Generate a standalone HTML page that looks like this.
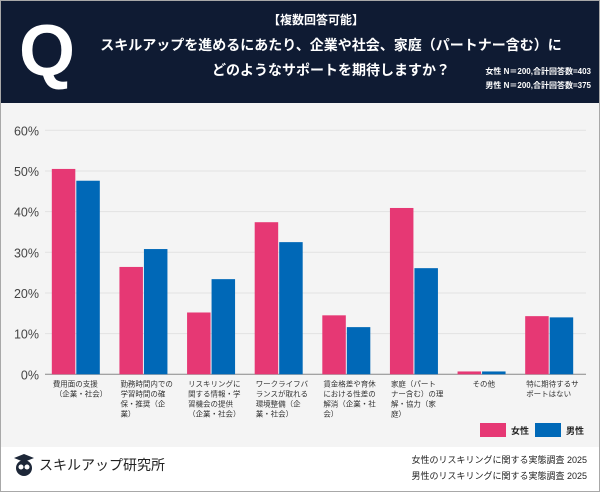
<!DOCTYPE html>
<html><head><meta charset="utf-8"><style>
body{margin:0;width:600px;height:492px;overflow:hidden;font-family:"Liberation Sans","Noto Sans CJK JP",sans-serif;}
#wrap{position:absolute;left:0;top:0;width:598px;height:490px;border:1px solid #a8a8a8;background:#fff;}
#head{position:absolute;left:0;top:0;width:598px;height:102px;background:#0f1b33;color:#fff;}
#chartbg{position:absolute;left:0;top:102px;width:598px;height:344px;background:#f4f4f4;}
</style></head><body>
<div id="wrap">
<div id="head">
 <div style="position:absolute;left:18px;top:14px;font-size:72px;font-weight:bold;line-height:72px;">Q</div>
 <div style="position:absolute;left:0;width:630px;text-align:center;top:10px;font-size:12px;font-weight:bold;">【複数回答可能】</div>
 <div style="position:absolute;left:70px;width:520px;text-align:center;top:32px;font-size:14px;font-weight:bold;line-height:25px;white-space:nowrap;">スキルアップを進めるにあたり、企業や社会、家庭（パートナー含む）に<br>どのようなサポートを期待しますか？</div>
 <div style="position:absolute;right:8px;top:64px;font-size:8px;font-weight:bold;line-height:14px;text-align:right;">女性 N＝200,合計回答数=403<br>男性 N＝200,合計回答数=375</div>
</div>
<div id="chartbg"></div>
<svg id="chart" width="598" height="344" style="position:absolute;left:0;top:102px;"></svg>
<div style="position:absolute;left:12px;top:452px;font-size:14px;color:#222;display:flex;align-items:center;">
 <svg width="22" height="24"><polygon points="1,5 11,1 21,5 11,9" fill="#1d2738"/><ellipse cx="11" cy="15" rx="8" ry="8" fill="#1d2738"/><circle cx="8" cy="14" r="2.5" fill="#fff"/><circle cx="14" cy="14" r="2.5" fill="#fff"/></svg>
 <span style="margin-left:4px">スキルアップ研究所</span></div>
<div style="position:absolute;right:12px;top:451px;font-size:9px;color:#222;line-height:16px;text-align:right;">女性のリスキリングに関する実態調査 2025<br>男性のリスキリングに関する実態調査 2025</div>
</div>
<script>
const categories=[["費用面の支援","（企業・社会）"],["勤務時間内での","学習時間の確","保・推奨（企","業）"],["リスキリングに","関する情報・学","習機会の提供","（企業・社会）"],["ワークライフバ","ランスが取れる","環境整備（企","業・社会）"],["賃金格差や育休","における性差の","解消（企業・社","会）"],["家庭（パート","ナー含む）の理","解・協力（家","庭）"],["その他"],["特に期待するサ","ポートはない"]];
const femaleValues=[50.5,26.4,15.2,37.4,14.5,40.9,0.7,14.3];
const maleValues=[47.6,30.8,23.4,32.5,11.6,26.1,0.7,14.0];
const yTicks=[0,10,20,30,40,50,60];
const seriesNames=["女性","男性"];
const NS="http://www.w3.org/2000/svg";
const svg=document.getElementById('chart');
const x0=44,x1=585,yB=271.3,yT=27.3,yMax=60;
const y=v=>yB-(v/yMax)*(yB-yT);
const step=(x1-x0)/categories.length;
const cx=i=>x0+step*(i+0.5)-3;
function mk(t,a){const e=document.createElementNS(NS,t);for(const k in a)e.setAttribute(k,a[k]);svg.appendChild(e);return e;}
yTicks.forEach(v=>{
 const g=mk('line',{x1:x0,x2:x1,y1:y(v),y2:y(v),stroke:v===0?'#888':'#e2e2e2','stroke-width':1});
 
 
 const t=mk('text',{x:38,y:y(v)+5,'text-anchor':'end','font-size':12.5,fill:'#444'});
 t.textContent=v+'%';
 
 
});
const bw=23.5;
categories.forEach((c,i)=>{
 const f=mk('rect',{x:cx(i)-bw-0.5,y:y(femaleValues[i]),width:bw,height:yB-y(femaleValues[i]),fill:'#e63874'});
 
 
 const m=mk('rect',{x:cx(i)+0.5,y:y(maleValues[i]),width:bw,height:yB-y(maleValues[i]),fill:'#0068b7'});
 
 
 const t=mk('text',{'font-size':7.5,fill:'#333'});
 
 
 c.forEach((ln,j)=>{const s=document.createElementNS(NS,'tspan');s.setAttribute('x',cx(i)-23);if(i===0&&j===1)s.setAttribute('x',cx(i)-21);if(i===6)s.setAttribute('x',cx(i)-9);s.setAttribute('y',yB+12+j*10);s.textContent=ln;t.appendChild(s);});
});
seriesNames.forEach((n,k)=>{
 const lx=k===0?479:534;
 const r=mk('rect',{x:lx,y:320,width:26,height:14,fill:k===0?'#e63874':'#0068b7'});
 
 
 const t=mk('text',{x:lx+31,y:331,'font-size':9,'font-weight':'bold',fill:'#222'});
 t.textContent=n;
 
 
});
</script>
</body></html>
